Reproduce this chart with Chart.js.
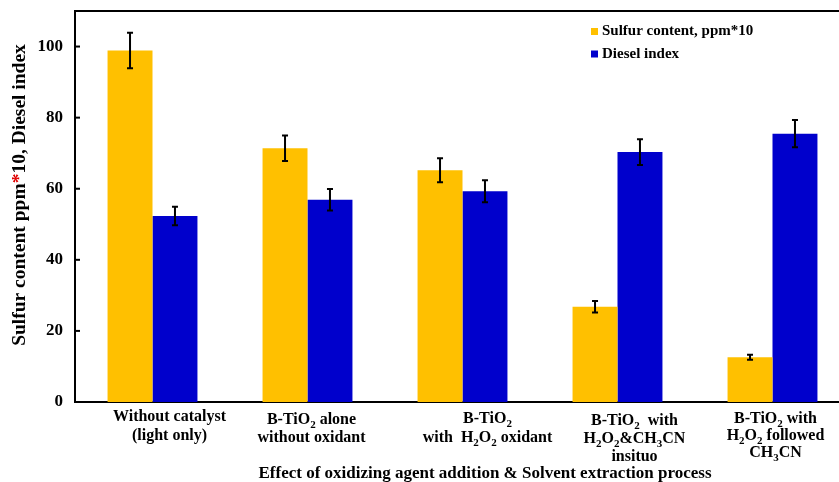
<!DOCTYPE html>
<html>
<head>
<meta charset="utf-8">
<script src="https://cdn.jsdelivr.net/npm/chart.js"></script>
<style>
  html, body { margin: 0; padding: 0; overflow: hidden; background: #fff; }
  #wrap { width: 852px; height: 482px; }
</style>
</head>
<body>
<div id="wrap"><canvas id="chart" width="852" height="482"></canvas></div>
<script>
// data ("_x" = subscript character)
const categories = [
  ['Without catalyst', '(light only)'],
  ['B-TiO_2 alone', 'without oxidant'],
  ['B-TiO_2', 'with  H_2O_2 oxidant'],
  ['B-TiO_2  with', 'H_2O_2&CH_3CN', 'insituo'],
  ['B-TiO_2 with', 'H_2O_2 followed', 'CH_3CN']
];
const sulfur = [98.9, 71.4, 65.2, 26.8, 12.6];
const sulfurErr = [5.0, 3.6, 3.4, 1.6, 0.7];
const diesel = [52.3, 56.9, 59.3, 70.3, 75.5];
const dieselErr = [2.6, 3.0, 3.1, 3.6, 3.8];
const yTicks = [0, 20, 40, 60, 80, 100];

// label placement (layout only)
const labelShift = [17, 4, 25, 17, 3];
const labelBase = [421, 424, 423, 425, 423];
const labelStep = [19, 18, 19, 18, 17];

const FONT = "'Liberation Serif', 'Times New Roman', serif";
const YELLOW = '#FFC000';
const BLUE = '#0000CC';

function drawRich(ctx, str, cx, y, size) {
  const segs = [];
  for (let i = 0; i < str.length; i++) {
    if (str[i] === '_' && i + 1 < str.length) {
      segs.push({ t: str[i + 1], sub: true });
      i++;
    } else {
      const last = segs[segs.length - 1];
      if (last && !last.sub) last.t += str[i];
      else segs.push({ t: str[i], sub: false });
    }
  }
  const subSize = Math.round(size * 0.68);
  let total = 0;
  segs.forEach(s => {
    ctx.font = 'bold ' + (s.sub ? subSize : size) + 'px ' + FONT;
    s.w = ctx.measureText(s.t).width;
    total += s.w;
  });
  let x = cx - total / 2;
  ctx.textAlign = 'left';
  ctx.textBaseline = 'alphabetic';
  segs.forEach(s => {
    ctx.font = 'bold ' + (s.sub ? subSize : size) + 'px ' + FONT;
    ctx.fillText(s.t, x, s.sub ? y + size * 0.22 : y);
    x += s.w;
  });
}

const decor = {
  id: 'decor',
  afterDatasetsDraw(chart) {
    const ctx = chart.ctx;
    const y = chart.scales.y;
    const errs = [sulfurErr, dieselErr];
    ctx.save();
    ctx.strokeStyle = '#000';
    ctx.lineWidth = 2;
    chart.data.datasets.forEach((ds, i) => {
      chart.getDatasetMeta(i).data.forEach((bar, j) => {
        const v = ds.data[j], e = errs[i][j];
        const top = y.getPixelForValue(v + e);
        const bot = y.getPixelForValue(v - e);
        ctx.beginPath();
        ctx.moveTo(bar.x, top); ctx.lineTo(bar.x, bot);
        ctx.moveTo(bar.x - 3, top); ctx.lineTo(bar.x + 3, top);
        ctx.moveTo(bar.x - 3, bot); ctx.lineTo(bar.x + 3, bot);
        ctx.stroke();
      });
    });
    ctx.restore();
  },
  afterDraw(chart) {
    const ctx = chart.ctx;
    const a = chart.chartArea;
    const x = chart.scales.x;
    const y = chart.scales.y;
    ctx.save();
    // top frame line
    ctx.strokeStyle = '#000';
    ctx.lineWidth = 2;
    ctx.beginPath();
    ctx.moveTo(a.left - 1, a.top); ctx.lineTo(a.right, a.top);
    ctx.stroke();
    // inner y ticks
    yTicks.forEach(v => {
      const py = y.getPixelForValue(v);
      ctx.beginPath();
      ctx.moveTo(a.left, py); ctx.lineTo(a.left + 5, py);
      ctx.stroke();
    });
    // category labels
    ctx.fillStyle = '#000';
    chart.data.labels.forEach((lines, i) => {
      const cx = x.getPixelForValue(i) + labelShift[i];
      lines.forEach((ln, k) => drawRich(ctx, ln, cx, labelBase[i] + k * labelStep[i], 16));
    });
    // x title
    ctx.font = 'bold 17px ' + FONT;
    ctx.textAlign = 'center';
    ctx.textBaseline = 'alphabetic';
    ctx.fillText('Effect of oxidizing agent addition & Solvent extraction process', 485, 478);
    // y title with red asterisk
    const parts = [['Sulfur content ppm', '#000'], ['*', '#E00000'], ['10, Diesel index', '#000']];
    ctx.font = 'bold 19.5px ' + FONT;
    const total = parts.reduce((s, p) => s + ctx.measureText(p[0]).width, 0);
    ctx.translate(20, 195);
    ctx.rotate(-Math.PI / 2);
    ctx.textAlign = 'left';
    ctx.textBaseline = 'middle';
    let px = -total / 2;
    parts.forEach(p => {
      ctx.fillStyle = p[1];
      ctx.fillText(p[0], px, 0);
      px += ctx.measureText(p[0]).width;
    });
    ctx.setTransform(1, 0, 0, 1, 0, 0);
    // legend
    ctx.font = 'bold 15px ' + FONT;
    ctx.textAlign = 'left';
    ctx.textBaseline = 'alphabetic';
    chart.data.datasets.forEach((ds, i) => {
      const ly = 28 + i * 22.5;
      ctx.fillStyle = ds.backgroundColor;
      ctx.fillRect(591, ly, 7, 7);
      ctx.fillStyle = '#000';
      ctx.fillText(ds.label, 602, ly + 7);
    });
    ctx.restore();
  }
};

new Chart(document.getElementById('chart'), {
  type: 'bar',
  data: {
    labels: categories,
    datasets: [
      { label: 'Sulfur content, ppm*10', data: sulfur, backgroundColor: YELLOW },
      { label: 'Diesel index', data: diesel, backgroundColor: BLUE }
    ]
  },
  options: {
    responsive: false,
    animation: false,
    layout: { padding: { top: 0, right: 2, left: 0, bottom: 0 } },
    datasets: { bar: { categoryPercentage: 0.58, barPercentage: 1 } },
    plugins: { legend: { display: false }, tooltip: { enabled: false } },
    scales: {
      x: {
        grid: { display: false, drawTicks: false },
        border: { display: true, color: '#000', width: 2 },
        ticks: { display: false },
        afterFit(s) { s.height = 80; }
      },
      y: {
        min: 0,
        max: 110,
        afterBuildTicks(s) { s.ticks = yTicks.map(v => ({ value: v })); },
        grid: { display: false, drawTicks: false },
        border: { display: true, color: '#000', width: 2 },
        ticks: {
          padding: 12,
          color: '#000',
          font: { family: FONT, size: 17, weight: 'bold' }
        },
        afterFit(s) { s.width = 75; s.paddingTop = 11; }
      }
    }
  },
  plugins: [decor]
});
</script>
</body>
</html>
